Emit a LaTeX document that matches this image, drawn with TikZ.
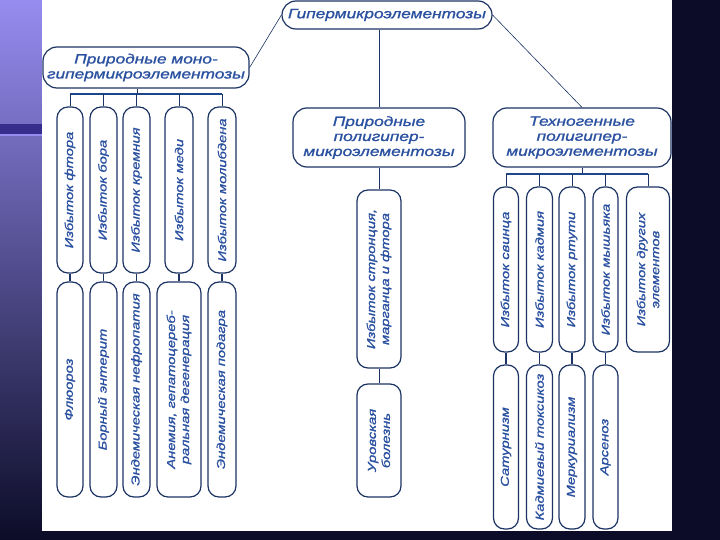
\documentclass[tikz,border=0pt]{standalone}
\usepackage{fontspec}
\usepackage{xcolor}
\usepackage{tikz}
\usetikzlibrary{shapes,positioning}
\newfontfamily\slidefont[FakeStretch=1.28,FakeBold=1.2]{Liberation Sans}
\definecolor{boxblue}{RGB}{28,52,100}
\definecolor{textblue}{RGB}{42,80,160}
\definecolor{busblue}{RGB}{30,70,140}
\definecolor{slidenavy}{RGB}{12,12,40}
\definecolor{slidelilac}{RGB}{150,140,240}
\definecolor{slideviolet}{RGB}{95,92,225}
\definecolor{slideband}{RGB}{55,45,140}

\begin{document}
\begin{tikzpicture}[
    x=1pt, y=-1pt,
    head/.style={rectangle, draw=boxblue, line width=1.2pt, fill=white, text=textblue, align=center, rounded corners=14pt, inner sep=0pt, font=\slidefont\itshape\fontsize{13.5}{15}\selectfont},
    vbox/.style={rectangle, draw=boxblue, line width=1.2pt, fill=white, text=textblue, align=center, rounded corners=11pt, inner sep=0pt, rotate=90, font=\slidefont\itshape\fontsize{11.5}{14}\selectfont},
    link/.style={draw=boxblue, line width=0.8pt},
    bus/.style={draw=busblue, line width=2pt}
]
\useasboundingbox (0,0) rectangle (720,540);

% Slide background
\fill[slidenavy] (0,0) rectangle (720,540);
\shade[top color=slidelilac, middle color=slideviolet, bottom color=slidenavy] (0,0) rectangle (42,540);
\fill[slideband] (0,124) rectangle (42,134);
\fill[slidelilac] (0,134) rectangle (42,136);
\fill[white] (42,0) rectangle (672,531);

% Root
\node[head, minimum width=210pt, minimum height=28pt] (root) at (387,15) {Гипермикроэлементозы};

% Groups
\node[head, minimum width=206pt, minimum height=41pt] (mono) at (146,67.5) {Природные моно-\\гипермикроэлементозы};
\node[head, minimum width=172pt, minimum height=59pt] (poly) at (379,137.5) {Природные\\полигипер-\\микроэлементозы};
\node[head, minimum width=178pt, minimum height=59pt] (techno) at (582,137.5) {Техногенные\\полигипер-\\микроэлементозы};

\draw[link, line width=0.6pt] (root.west) -- (mono.east);
\draw[link, line width=0.6pt] (root.east) -- (techno.north);
\draw[link] (poly.north) -- (poly.north |- root.south);

% Natural mono: excess
\node[vbox, minimum width=166pt, minimum height=26pt] (ex1) at (70,190) {Избыток фтора};
\node[vbox, minimum width=166pt, minimum height=27pt] (ex2) at (103.5,190) {Избыток бора};
\node[vbox, minimum width=166pt, minimum height=27pt] (ex3) at (136.5,190) {Избыток кремния};
\node[vbox, minimum width=166pt, minimum height=28pt] (ex4) at (179,190) {Избыток меди};
\node[vbox, minimum width=166pt, minimum height=28pt] (ex5) at (222,190) {Избыток молибдена};

% Natural mono: diseases
\node[vbox, minimum width=215pt, minimum height=26pt] (dis1) at (70,389.5) {Флюороз};
\node[vbox, minimum width=215pt, minimum height=27pt] (dis2) at (103.5,389.5) {Борный энтерит};
\node[vbox, minimum width=215pt, minimum height=27pt] (dis3) at (136.5,389.5) {Эндемическая нефропатия};
\node[vbox, minimum width=215pt, minimum height=44pt] (dis4) at (179,389.5) {Анемия, гепатоцереб-\\ральная дегенерация};
\node[vbox, minimum width=215pt, minimum height=28pt] (dis5) at (222,389.5) {Эндемическая подагра};

\coordinate (monobus) at (137,94);
\draw[link] (monobus) -- (monobus |- mono.south);
\draw[bus] (ex1.east |- monobus) -- (ex5.east |- monobus);
\foreach \n in {1,...,5} {
  \draw[link] (ex\n.east) -- (ex\n.east |- monobus);
  \draw[link, line width=1.2pt] (ex\n.west) -- (dis\n.east);
}

% Natural poly
\node[vbox, minimum width=178pt, minimum height=44pt] (stron) at (379,279) {Избыток стронция,\\марганца и фтора};
\node[vbox, minimum width=113pt, minimum height=44pt] (ural) at (379,440.5) {Уровская\\болезнь};
\draw[link] (poly.south) -- (stron.east);
\draw[link] (stron.west) -- (ural.east);

% Technogenic: excess
\node[vbox, minimum width=165pt, minimum height=25pt] (tx1) at (506,269.5) {Избыток свинца};
\node[vbox, minimum width=165pt, minimum height=26pt] (tx2) at (539.5,269.5) {Избыток кадмия};
\node[vbox, minimum width=165pt, minimum height=26pt] (tx3) at (572,269.5) {Избыток ртути};
\node[vbox, minimum width=165pt, minimum height=25pt] (tx4) at (605.5,269.5) {Избыток мышьяка};
\node[vbox, minimum width=165pt, minimum height=43pt] (tx5) at (648,269.5) {Избыток других\\элементов};

% Technogenic: diseases
\node[vbox, minimum width=164pt, minimum height=25pt] (tox1) at (506,447) {Сатурнизм};
\node[vbox, minimum width=164pt, minimum height=26pt] (tox2) at (539.5,447) {Кадмиевый токсикоз};
\node[vbox, minimum width=164pt, minimum height=26pt] (tox3) at (572,447) {Меркуриализм};
\node[vbox, minimum width=164pt, minimum height=25pt] (tox4) at (605.5,447) {Арсеноз};

\coordinate (technobus) at (582,174);
\draw[link] (technobus) -- (technobus |- techno.south);
\draw[bus, line width=2.6pt] (tx1.east |- technobus) -- (tx5.east |- technobus);
\foreach \n in {1,...,5}
  \draw[link] (tx\n.east) -- (tx\n.east |- technobus);
\foreach \n in {1,...,4}
  \draw[link, line width=1.2pt] (tx\n.west) -- (tox\n.east);

\end{tikzpicture}
\end{document}
